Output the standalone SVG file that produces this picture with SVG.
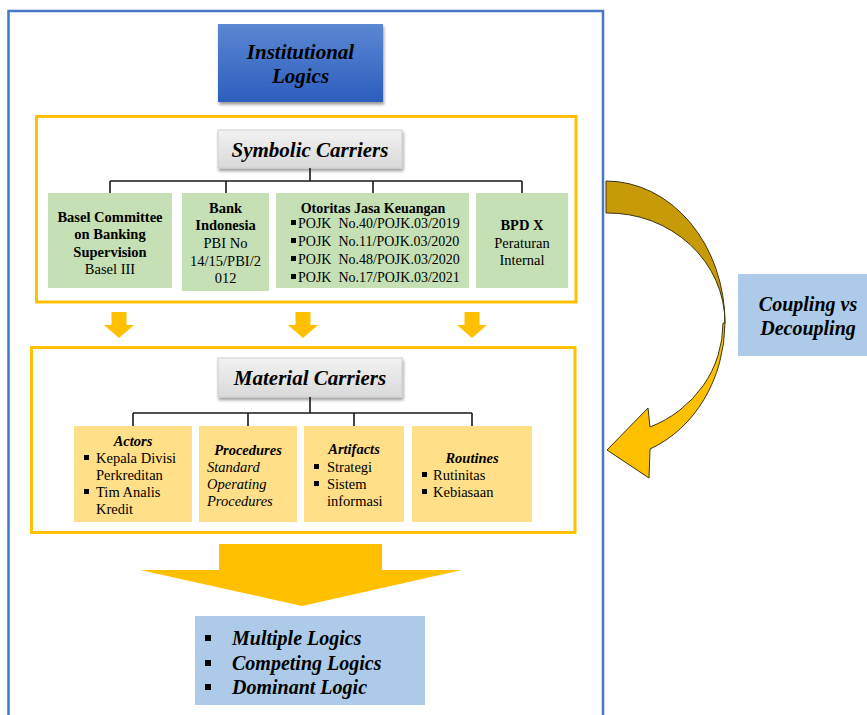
<svg xmlns="http://www.w3.org/2000/svg" width="867" height="715" viewBox="0 0 867 715" font-family="'Liberation Serif', Tinos, 'Nimbus Roman', 'DejaVu Serif', serif">
  <defs>
    <linearGradient id="blueGrad" x1="0" y1="0" x2="0" y2="1">
      <stop offset="0" stop-color="#5b87d3"/>
      <stop offset="1" stop-color="#2d5ebd"/>
    </linearGradient>
    <linearGradient id="grayGrad" x1="0" y1="0" x2="0" y2="1">
      <stop offset="0" stop-color="#f2f2f2"/>
      <stop offset="1" stop-color="#d9d9d9"/>
    </linearGradient>
    <filter id="shadow" x="-10%" y="-20%" width="125%" height="150%">
      <feDropShadow dx="1" dy="2.5" stdDeviation="1.5" flood-color="#000" flood-opacity="0.4"/>
    </filter>
  </defs>
  <style>
    text { font-family: 'Liberation Serif', Tinos, 'Nimbus Roman', 'DejaVu Serif', serif; fill: #000; }
    .hdr { font-size: 21px; font-weight: bold; font-style: italic; text-anchor: middle; }
    .big { font-size: 20px; font-weight: bold; font-style: italic; }
    .gb { font-size: 14.5px; font-weight: bold; text-anchor: middle; }
    .gr { font-size: 14.5px; text-anchor: middle; }
    .ojk { font-size: 14px; }
    .bt { font-size: 14.5px; font-weight: bold; font-style: italic; text-anchor: middle; }
    .it { font-size: 14.5px; font-style: italic; }
    .tx { font-size: 14.5px; }
    .frame { fill: none; stroke: #ffc000; stroke-width: 3; }
    .green { fill: #c5e0b4; }
    .yel { fill: #ffdf87; }
    .lightblue { fill: #adcbe9; }
    .gold { fill: #ffc000; }
    .dot { fill: #000; }
    .conn { fill: none; stroke: #1a1a1a; stroke-width: 1.6; }
  </style>

  <!-- outer container -->
  <rect x="8.5" y="11" width="594.5" height="720" fill="#fff" stroke="#4a76c6" stroke-width="2.5"/>

  <!-- Institutional Logics -->
  <g id="institutional-logics">
    <rect x="218" y="24" width="165" height="78" fill="url(#blueGrad)" filter="url(#shadow)"/>
    <text class="hdr" x="300.5" y="59">Institutional</text>
    <text class="hdr" x="300.5" y="83">Logics</text>
  </g>

  <!-- Symbolic carriers frame -->
  <g id="symbolic-frame">
    <rect class="frame" x="36.5" y="116.5" width="539.5" height="185.5"/>
  </g>
  <g id="symbolic-carriers">
    <rect x="218" y="130" width="184" height="38" fill="url(#grayGrad)" stroke="#cfcfcf" stroke-width="1" filter="url(#shadow)"/>
    <text class="hdr" x="310" y="157">Symbolic Carriers</text>
  </g>

  <g id="basel">
    <rect class="green" x="48" y="193" width="124" height="95"/>
    <text class="gb" x="110" y="222">Basel Committee</text>
    <text class="gb" x="110" y="239">on Banking</text>
    <text class="gb" x="110" y="257">Supervision</text>
    <text class="gr" x="110" y="274">Basel III</text>
  </g>

  <g id="bank-indonesia">
    <rect class="green" x="182" y="193" width="87" height="98"/>
    <text class="gb" x="225.5" y="213">Bank</text>
    <text class="gb" x="225.5" y="230">Indonesia</text>
    <text class="gr" x="225.5" y="248">PBI No</text>
    <text class="gr" x="225.5" y="266">14/15/PBI/2</text>
    <text class="gr" x="225.5" y="283">012</text>
  </g>

  <g id="ojk">
    <rect class="green" x="276" y="193" width="193" height="95"/>
    <text class="gb" x="373" y="213" style="font-size:14px">Otoritas Jasa Keuangan</text>
    <rect class="dot" x="291" y="220" width="5" height="5"/>
    <text class="ojk" x="298" y="228" xml:space="preserve">POJK  No.40/POJK.03/2019</text>
    <rect class="dot" x="291" y="238" width="5" height="5"/>
    <text class="ojk" x="298" y="246" xml:space="preserve">POJK  No.11/POJK.03/2020</text>
    <rect class="dot" x="291" y="256" width="5" height="5"/>
    <text class="ojk" x="298" y="264" xml:space="preserve">POJK  No.48/POJK.03/2020</text>
    <rect class="dot" x="291" y="274" width="5" height="5"/>
    <text class="ojk" x="298" y="282" xml:space="preserve">POJK  No.17/POJK.03/2021</text>
  </g>

  <g id="bpd-x">
    <rect class="green" x="476" y="193" width="92" height="95"/>
    <text class="gb" x="522" y="230">BPD X</text>
    <text class="gr" x="522" y="248">Peraturan</text>
    <text class="gr" x="522" y="265">Internal</text>
  </g>

  <!-- down arrows between frames -->
  <g id="down-arrows">
    <path class="gold" d="M111.5,312 h15 v13 h7.5 l-15,13 l-15,-13 h7.5 z"/>
    <path class="gold" d="M295.5,312 h15 v13 h7.5 l-15,13 l-15,-13 h7.5 z"/>
    <path class="gold" d="M464.5,312 h15 v13 h7.5 l-15,13 l-15,-13 h7.5 z"/>
  </g>

  <!-- Material carriers frame -->
  <g id="material-frame">
    <rect class="frame" x="31.5" y="347.5" width="543.5" height="185"/>
  </g>
  <g id="material-carriers">
    <rect x="218" y="358" width="184" height="39" fill="url(#grayGrad)" stroke="#cfcfcf" stroke-width="1" filter="url(#shadow)"/>
    <text class="hdr" x="310" y="385">Material Carriers</text>
  </g>

  <g id="actors">
    <rect class="yel" x="74" y="426" width="118" height="96"/>
    <text class="bt" x="133" y="446">Actors</text>
    <rect class="dot" x="84" y="455" width="5" height="5"/>
    <text class="tx" x="96" y="463">Kepala Divisi</text>
    <text class="tx" x="96" y="480">Perkreditan</text>
    <rect class="dot" x="84" y="489" width="5" height="5"/>
    <text class="tx" x="96" y="497">Tim Analis</text>
    <text class="tx" x="96" y="514">Kredit</text>
  </g>

  <g id="procedures">
    <rect class="yel" x="199" y="426" width="98" height="96"/>
    <text class="bt" x="248" y="455">Procedures</text>
    <text class="it" x="207" y="472">Standard</text>
    <text class="it" x="207" y="489">Operating</text>
    <text class="it" x="207" y="506">Procedures</text>
  </g>

  <g id="artifacts">
    <rect class="yel" x="304" y="426" width="100" height="96"/>
    <text class="bt" x="354" y="454">Artifacts</text>
    <rect class="dot" x="314" y="464" width="5" height="5"/>
    <text class="tx" x="327" y="472">Strategi</text>
    <rect class="dot" x="314" y="481" width="5" height="5"/>
    <text class="tx" x="327" y="489">Sistem</text>
    <text class="tx" x="327" y="506">informasi</text>
  </g>

  <g id="routines">
    <rect class="yel" x="412" y="426" width="120" height="96"/>
    <text class="bt" x="472" y="463">Routines</text>
    <rect class="dot" x="422" y="472" width="5" height="5"/>
    <text class="tx" x="433" y="480">Rutinitas</text>
    <rect class="dot" x="422" y="489" width="5" height="5"/>
    <text class="tx" x="433" y="497">Kebiasaan</text>
  </g>

  <!-- large arrow towards outcomes -->
  <g id="outcome-arrow">
    <path class="gold" d="M219,544 H382 V570 H462 L302,606 L140,570 H219 Z"/>
  </g>

  <g id="outcomes">
    <rect class="lightblue" x="195" y="616" width="230" height="89"/>
    <rect class="dot" x="205" y="635" width="6" height="6"/>
    <text class="big" x="232" y="645">Multiple Logics</text>
    <rect class="dot" x="205" y="660" width="6" height="6"/>
    <text class="big" x="232" y="670">Competing Logics</text>
    <rect class="dot" x="205" y="684" width="6" height="6"/>
    <text class="big" x="232" y="694">Dominant Logic</text>
  </g>

  <!-- coupling label -->
  <g id="coupling">
    <rect class="lightblue" x="738" y="274" width="135" height="82"/>
    <text class="big" x="808" y="311" text-anchor="middle">Coupling vs</text>
    <text class="big" x="808" y="335" text-anchor="middle">Decoupling</text>
  </g>

  <!-- curved feedback arrow -->
  <g id="curved-arrow" stroke="#3b3413" stroke-width="1" stroke-linejoin="miter">
    <path fill="#c79a08" d="M606,181 A119,142 0 0 1 725,323 A117,110 0 0 0 606,213 Z"/>
    <path fill="#ffc000" d="M725,323 A119,137 0 0 1 650,449 L649,478 L607,450 L648,408 L650,427 A117,112 0 0 0 723,323 Z"/>
  </g>

  <!-- tree connectors -->
  <g id="connectors" class="conn">
    <path d="M310,168 V181 M110,181 H522 M110,181 V193 M226,181 V193 M373,181 V193 M522,181 V193"/>
    <path d="M310,397 V413 M133,413 H472 M133,413 V426 M248,413 V426 M354,413 V426 M472,413 V426"/>
  </g>
</svg>
